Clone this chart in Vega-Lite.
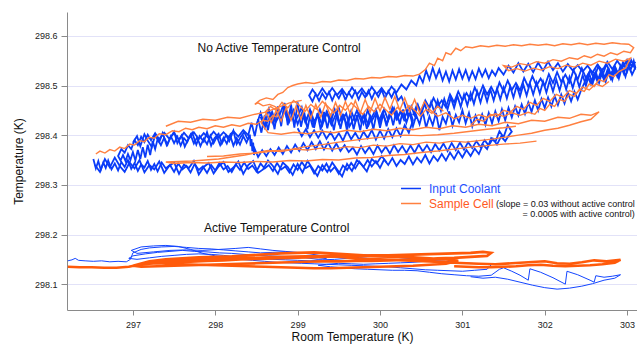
{
"$schema": "https://vega.github.io/schema/vega-lite/v6.json",
"width": 570, "height": 298,
"autosize": "none",
"padding": {"left": 67, "top": 12, "right": 0, "bottom": 36},
"config": {"font": "Liberation Sans", "view": {"stroke": null}},
"datasets": {
"ub": [
{"x":296.52,"y":298.352},{"x":296.55,"y":298.333},{"x":296.58,"y":298.348},{"x":296.61,"y":298.330},{"x":296.64,"y":298.345},{"x":296.67,"y":298.334},{"x":296.70,"y":298.349},{"x":296.74,"y":298.331},{"x":296.78,"y":298.343},{"x":296.82,"y":298.329},{"x":296.86,"y":298.346},{"x":296.90,"y":298.336},{"x":296.94,"y":298.350},{"x":296.98,"y":298.332},{"x":297.02,"y":298.344},{"x":297.06,"y":298.328},{"x":297.10,"y":298.341},{"x":297.14,"y":298.335},{"x":297.18,"y":298.348},{"x":297.22,"y":298.330},{"x":297.26,"y":298.342},{"x":297.30,"y":298.327},{"x":297.35,"y":298.345},{"x":297.40,"y":298.333},{"x":297.45,"y":298.340},{"x":297.50,"y":298.326},{"x":297.55,"y":298.343},{"x":297.60,"y":298.331},{"x":297.65,"y":298.338},{"x":297.70,"y":298.325},{"x":297.75,"y":298.342},{"x":297.80,"y":298.330},{"x":297.85,"y":298.337},{"x":297.90,"y":298.324},{"x":297.95,"y":298.340},{"x":298.00,"y":298.329},{"x":298.05,"y":298.344},{"x":298.10,"y":298.331},{"x":298.15,"y":298.338},{"x":298.20,"y":298.326},{"x":298.25,"y":298.341},{"x":298.30,"y":298.330},{"x":298.35,"y":298.345},{"x":298.40,"y":298.332},{"x":298.45,"y":298.339},{"x":298.50,"y":298.327},{"x":298.55,"y":298.343},{"x":298.60,"y":298.333},{"x":298.65,"y":298.340},{"x":298.70,"y":298.328},{"x":298.75,"y":298.344},{"x":298.80,"y":298.331},{"x":298.85,"y":298.337},{"x":298.90,"y":298.325},{"x":298.95,"y":298.341},{"x":299.00,"y":298.330},{"x":299.05,"y":298.346},{"x":299.10,"y":298.334},{"x":299.15,"y":298.339},{"x":299.20,"y":298.323},{"x":299.25,"y":298.338},{"x":299.30,"y":298.329},{"x":299.35,"y":298.343},{"x":299.40,"y":298.327},{"x":299.45,"y":298.336},{"x":299.50,"y":298.322},{"x":299.55,"y":298.339},{"x":299.60,"y":298.330},{"x":299.65,"y":298.344},{"x":299.70,"y":298.333},{"x":299.75,"y":298.347},{"x":299.80,"y":298.336},
{"x":299.85,"y":298.350},{"x":299.90,"y":298.337},{"x":299.95,"y":298.348},{"x":300.00,"y":298.334},{"x":300.05,"y":298.351},{"x":300.10,"y":298.340},{"x":300.15,"y":298.354},{"x":300.20,"y":298.338},{"x":300.25,"y":298.350},{"x":300.30,"y":298.342},{"x":300.35,"y":298.357},{"x":300.40,"y":298.341},{"x":300.45,"y":298.355},{"x":300.50,"y":298.345},{"x":300.55,"y":298.360},{"x":300.60,"y":298.343},{"x":300.65,"y":298.358},{"x":300.70,"y":298.348},{"x":300.75,"y":298.362},{"x":300.80,"y":298.349},{"x":300.85,"y":298.365},{"x":300.90,"y":298.352},{"x":300.95,"y":298.368},{"x":301.00,"y":298.355},{"x":301.05,"y":298.370},{"x":301.10,"y":298.358},{"x":301.15,"y":298.373},{"x":301.20,"y":298.362},
{"x":301.25,"y":298.381},{"x":301.30,"y":298.372},{"x":301.35,"y":298.394},{"x":301.40,"y":298.386},{"x":301.45,"y":298.408},{"x":301.50,"y":298.396},{"x":301.55,"y":298.420},{"x":301.60,"y":298.407},{"x":301.56,"y":298.399},{"x":301.52,"y":298.388},{"x":301.47,"y":298.397},{"x":301.42,"y":298.381},{"x":301.37,"y":298.393},{"x":301.32,"y":298.379},{"x":301.27,"y":298.390},{"x":301.22,"y":298.376},{"x":301.17,"y":298.388},{"x":301.12,"y":298.374},{"x":301.07,"y":298.386},{"x":301.02,"y":298.371},{"x":300.97,"y":298.385},{"x":300.92,"y":298.370},{"x":300.87,"y":298.384},{"x":300.82,"y":298.368},{"x":300.77,"y":298.383},{"x":300.72,"y":298.369},{"x":300.67,"y":298.382},{"x":300.62,"y":298.366},{"x":300.57,"y":298.380},{"x":300.52,"y":298.367},{"x":300.47,"y":298.381},{"x":300.42,"y":298.365},{"x":300.37,"y":298.379},{"x":300.32,"y":298.364},{"x":300.27,"y":298.378},{"x":300.22,"y":298.366},{"x":300.17,"y":298.380},{"x":300.12,"y":298.363},{"x":300.07,"y":298.377},{"x":300.02,"y":298.365},{"x":299.97,"y":298.379},{"x":299.92,"y":298.362},{"x":299.87,"y":298.376},{"x":299.82,"y":298.364},{"x":299.77,"y":298.378},{"x":299.72,"y":298.361},{"x":299.67,"y":298.375},{"x":299.62,"y":298.366},{"x":299.57,"y":298.380},{"x":299.52,"y":298.368},{"x":299.47,"y":298.383},{"x":299.42,"y":298.369},{"x":299.37,"y":298.385},{"x":299.32,"y":298.371},{"x":299.27,"y":298.388},{"x":299.22,"y":298.372},{"x":299.17,"y":298.386},{"x":299.12,"y":298.370},{"x":299.07,"y":298.384},{"x":299.02,"y":298.368},{"x":298.97,"y":298.381},{"x":298.92,"y":298.365},{"x":298.87,"y":298.378},{"x":298.82,"y":298.362},{"x":298.77,"y":298.375},{"x":298.72,"y":298.360},{"x":298.67,"y":298.372},{"x":298.62,"y":298.358},{"x":298.57,"y":298.370},{"x":298.52,"y":298.356},
{"x":298.48,"y":298.372},{"x":298.47,"y":298.360},{"x":298.46,"y":298.385},{"x":298.45,"y":298.368},{"x":298.44,"y":298.392},{"x":298.43,"y":298.378},{"x":298.42,"y":298.401},
{"x":298.38,"y":298.385},{"x":298.34,"y":298.398},{"x":298.30,"y":298.381},{"x":298.26,"y":298.394},{"x":298.22,"y":298.379},{"x":298.18,"y":298.400},{"x":298.14,"y":298.383},{"x":298.10,"y":298.395},{"x":298.06,"y":298.380},{"x":298.02,"y":298.397},{"x":297.98,"y":298.384},{"x":297.94,"y":298.399},{"x":297.90,"y":298.382},{"x":297.86,"y":298.393},{"x":297.82,"y":298.378},{"x":297.78,"y":298.396},{"x":297.74,"y":298.383},{"x":297.70,"y":298.401},{"x":297.66,"y":298.386},{"x":297.62,"y":298.394},{"x":297.58,"y":298.379},{"x":297.54,"y":298.397},{"x":297.50,"y":298.384},{"x":297.46,"y":298.398},{"x":297.42,"y":298.381},{"x":297.38,"y":298.395},{"x":297.34,"y":298.380},{"x":297.30,"y":298.392},
{"x":297.27,"y":298.372},{"x":297.24,"y":298.388},{"x":297.21,"y":298.360},{"x":297.18,"y":298.381},{"x":297.15,"y":298.355},{"x":297.12,"y":298.376},{"x":297.09,"y":298.352},{"x":297.06,"y":298.370},{"x":297.03,"y":298.349},{"x":297.00,"y":298.366},{"x":296.97,"y":298.350},{"x":296.94,"y":298.362},{"x":296.91,"y":298.348},{"x":296.88,"y":298.360},{"x":296.85,"y":298.349},{"x":296.82,"y":298.358},
{"x":296.86,"y":298.372},{"x":296.90,"y":298.365},{"x":296.94,"y":298.380},{"x":296.98,"y":298.372},{"x":297.02,"y":298.390},{"x":297.06,"y":298.380},{"x":297.10,"y":298.397},{"x":297.14,"y":298.386},{"x":297.18,"y":298.401},{"x":297.22,"y":298.390},{"x":297.27,"y":298.404},{"x":297.32,"y":298.392},{"x":297.38,"y":298.405},{"x":297.44,"y":298.393},{"x":297.50,"y":298.404},{"x":297.56,"y":298.391},{"x":297.62,"y":298.405},{"x":297.68,"y":298.393},{"x":297.74,"y":298.406},{"x":297.80,"y":298.392},{"x":297.86,"y":298.404},{"x":297.92,"y":298.394},{"x":297.98,"y":298.407},{"x":298.04,"y":298.395},{"x":298.10,"y":298.406},{"x":298.16,"y":298.396},{"x":298.22,"y":298.408},{"x":298.28,"y":298.397},{"x":298.34,"y":298.410},{"x":298.40,"y":298.400},
{"x":298.44,"y":298.425},{"x":298.48,"y":298.398},{"x":298.52,"y":298.432},{"x":298.56,"y":298.405},{"x":298.60,"y":298.440},{"x":298.64,"y":298.410},{"x":298.68,"y":298.445},{"x":298.72,"y":298.412},{"x":298.76,"y":298.458},{"x":298.80,"y":298.418},{"x":298.84,"y":298.465},{"x":298.88,"y":298.420},{"x":298.92,"y":298.462},{"x":298.96,"y":298.415},{"x":299.00,"y":298.466},{"x":299.04,"y":298.417},{"x":299.08,"y":298.446},{"x":299.12,"y":298.412},{"x":299.16,"y":298.449},{"x":299.20,"y":298.415},{"x":299.24,"y":298.444},{"x":299.28,"y":298.411},{"x":299.32,"y":298.447},{"x":299.36,"y":298.414},{"x":299.40,"y":298.443},{"x":299.44,"y":298.410},{"x":299.48,"y":298.446},{"x":299.52,"y":298.413},{"x":299.56,"y":298.442},{"x":299.60,"y":298.409},{"x":299.64,"y":298.445},{"x":299.68,"y":298.412},{"x":299.72,"y":298.440},{"x":299.76,"y":298.410},{"x":299.80,"y":298.444},{"x":299.84,"y":298.413},{"x":299.88,"y":298.441},{"x":299.92,"y":298.412},{"x":299.96,"y":298.446},{"x":300.00,"y":298.415},{"x":300.04,"y":298.443},{"x":300.08,"y":298.418},{"x":300.12,"y":298.448},{"x":300.16,"y":298.420},{"x":300.20,"y":298.450},{"x":300.24,"y":298.422},{"x":300.28,"y":298.452},{"x":300.32,"y":298.425},
{"x":300.36,"y":298.445},{"x":300.40,"y":298.418},{"x":300.44,"y":298.440},{"x":300.48,"y":298.422},{"x":300.52,"y":298.447},{"x":300.56,"y":298.415},{"x":300.60,"y":298.438},{"x":300.64,"y":298.420},{"x":300.68,"y":298.445},{"x":300.72,"y":298.410},{"x":300.76,"y":298.437},{"x":300.80,"y":298.423},{"x":300.84,"y":298.448},{"x":300.88,"y":298.419},{"x":300.92,"y":298.441},{"x":300.96,"y":298.426},{"x":301.00,"y":298.450},{"x":301.04,"y":298.424},{"x":301.08,"y":298.445},{"x":301.12,"y":298.418},{"x":301.16,"y":298.440},
{"x":301.20,"y":298.425},{"x":301.24,"y":298.442},{"x":301.28,"y":298.421},{"x":301.32,"y":298.445},{"x":301.36,"y":298.424},{"x":301.40,"y":298.448},{"x":301.44,"y":298.428},{"x":301.48,"y":298.452},{"x":301.52,"y":298.430},{"x":301.56,"y":298.455},{"x":301.60,"y":298.436},{"x":301.64,"y":298.458},{"x":301.68,"y":298.440},{"x":301.72,"y":298.462},{"x":301.76,"y":298.443},{"x":301.80,"y":298.466},{"x":301.84,"y":298.447},{"x":301.88,"y":298.470},{"x":301.92,"y":298.450},{"x":301.96,"y":298.473},{"x":302.00,"y":298.455},{"x":302.04,"y":298.476},{"x":302.08,"y":298.458},{"x":302.12,"y":298.479},{"x":302.16,"y":298.461},{"x":302.20,"y":298.482},{"x":302.24,"y":298.464},{"x":302.28,"y":298.486},{"x":302.32,"y":298.468},{"x":302.36,"y":298.488},{"x":302.40,"y":298.472},{"x":302.44,"y":298.490},
{"x":302.48,"y":298.505},{"x":302.52,"y":298.520},{"x":302.56,"y":298.503},{"x":302.60,"y":298.524},{"x":302.64,"y":298.508},{"x":302.68,"y":298.528},{"x":302.72,"y":298.511},{"x":302.76,"y":298.531},{"x":302.80,"y":298.514},{"x":302.84,"y":298.535},{"x":302.88,"y":298.518},{"x":302.92,"y":298.540},{"x":302.96,"y":298.524},{"x":303.00,"y":298.546},{"x":303.04,"y":298.530},{"x":303.08,"y":298.550},{"x":303.10,"y":298.536},
{"x":303.06,"y":298.522},{"x":303.02,"y":298.542},{"x":302.98,"y":298.518},{"x":302.94,"y":298.538},{"x":302.90,"y":298.514},{"x":302.86,"y":298.535},{"x":302.82,"y":298.511},{"x":302.78,"y":298.532},{"x":302.74,"y":298.508},{"x":302.70,"y":298.530},{"x":302.66,"y":298.505},{"x":302.62,"y":298.527},{"x":302.58,"y":298.503},{"x":302.54,"y":298.524},{"x":302.50,"y":298.500},{"x":302.46,"y":298.521},{"x":302.42,"y":298.497},{"x":302.38,"y":298.519},{"x":302.34,"y":298.495},{"x":302.30,"y":298.517},{"x":302.26,"y":298.492},{"x":302.22,"y":298.514},{"x":302.18,"y":298.490},{"x":302.14,"y":298.512},{"x":302.10,"y":298.488},{"x":302.06,"y":298.510},{"x":302.02,"y":298.486},{"x":301.98,"y":298.508},{"x":301.94,"y":298.484},{"x":301.90,"y":298.506},{"x":301.86,"y":298.482},{"x":301.82,"y":298.504},{"x":301.78,"y":298.480},{"x":301.74,"y":298.502},{"x":301.70,"y":298.478},{"x":301.66,"y":298.500},{"x":301.62,"y":298.476},{"x":301.58,"y":298.498},{"x":301.54,"y":298.474},{"x":301.50,"y":298.496},{"x":301.46,"y":298.472},{"x":301.42,"y":298.494},{"x":301.38,"y":298.470},{"x":301.34,"y":298.492},{"x":301.30,"y":298.468},{"x":301.26,"y":298.490},{"x":301.22,"y":298.466},{"x":301.18,"y":298.488},{"x":301.14,"y":298.463},{"x":301.10,"y":298.485},{"x":301.06,"y":298.460},{"x":301.02,"y":298.482},{"x":300.98,"y":298.457},{"x":300.94,"y":298.479},{"x":300.90,"y":298.455},{"x":300.86,"y":298.476},{"x":300.82,"y":298.452},{"x":300.78,"y":298.473},{"x":300.74,"y":298.449},{"x":300.70,"y":298.470},{"x":300.66,"y":298.446},{"x":300.62,"y":298.467},{"x":300.58,"y":298.444},{"x":300.54,"y":298.464},{"x":300.50,"y":298.441},{"x":300.46,"y":298.461},{"x":300.42,"y":298.440},{"x":300.38,"y":298.458},{"x":300.34,"y":298.438},
{"x":300.30,"y":298.462},{"x":300.26,"y":298.478},{"x":300.22,"y":298.470},{"x":300.18,"y":298.490},{"x":300.14,"y":298.476},{"x":300.10,"y":298.489},{"x":300.06,"y":298.474},{"x":300.02,"y":298.491},{"x":299.98,"y":298.477},{"x":299.94,"y":298.488},{"x":299.90,"y":298.473},{"x":299.86,"y":298.490},{"x":299.82,"y":298.476},{"x":299.78,"y":298.487},{"x":299.74,"y":298.472},{"x":299.70,"y":298.489},{"x":299.66,"y":298.475},{"x":299.62,"y":298.486},{"x":299.58,"y":298.471},{"x":299.54,"y":298.488},{"x":299.50,"y":298.474},{"x":299.46,"y":298.485},{"x":299.42,"y":298.470},{"x":299.38,"y":298.487},{"x":299.34,"y":298.473},{"x":299.30,"y":298.484},{"x":299.26,"y":298.469},{"x":299.22,"y":298.483},{"x":299.18,"y":298.468},{"x":299.14,"y":298.480},
{"x":299.18,"y":298.492},{"x":299.24,"y":298.478},{"x":299.30,"y":298.494},{"x":299.36,"y":298.480},{"x":299.42,"y":298.495},{"x":299.48,"y":298.481},{"x":299.54,"y":298.493},{"x":299.60,"y":298.479},{"x":299.66,"y":298.496},{"x":299.72,"y":298.482},{"x":299.78,"y":298.494},{"x":299.84,"y":298.480},{"x":299.90,"y":298.497},{"x":299.96,"y":298.483},{"x":300.02,"y":298.495},{"x":300.08,"y":298.481},{"x":300.14,"y":298.498},{"x":300.20,"y":298.486},{"x":300.26,"y":298.502},{"x":300.32,"y":298.492},{"x":300.38,"y":298.510},{"x":300.44,"y":298.500},
{"x":300.48,"y":298.520},{"x":300.52,"y":298.506},{"x":300.56,"y":298.530},{"x":300.60,"y":298.512},{"x":300.64,"y":298.535},{"x":300.68,"y":298.515},{"x":300.72,"y":298.532},{"x":300.76,"y":298.510},{"x":300.80,"y":298.528},{"x":300.84,"y":298.508},{"x":300.88,"y":298.530},{"x":300.92,"y":298.512},{"x":300.96,"y":298.533},{"x":301.00,"y":298.514},{"x":301.04,"y":298.531},{"x":301.08,"y":298.511},{"x":301.12,"y":298.529},{"x":301.16,"y":298.513},{"x":301.20,"y":298.534},{"x":301.24,"y":298.518},{"x":301.28,"y":298.532},{"x":301.32,"y":298.515},{"x":301.36,"y":298.530},{"x":301.40,"y":298.520},{"x":301.44,"y":298.535},{"x":301.50,"y":298.522},{"x":301.56,"y":298.540},{"x":301.62,"y":298.526},{"x":301.68,"y":298.545},{"x":301.74,"y":298.528},{"x":301.80,"y":298.544},{"x":301.86,"y":298.527},{"x":301.92,"y":298.546},{"x":301.98,"y":298.530},{"x":302.04,"y":298.548},{"x":302.10,"y":298.531},{"x":302.16,"y":298.545},{"x":302.22,"y":298.528},{"x":302.28,"y":298.543},{"x":302.34,"y":298.530},{"x":302.40,"y":298.541},
{"x":302.46,"y":298.528},{"x":302.52,"y":298.540},{"x":302.58,"y":298.526},{"x":302.64,"y":298.542},{"x":302.70,"y":298.530},{"x":302.76,"y":298.548},{"x":302.82,"y":298.533},{"x":302.88,"y":298.550},{"x":302.94,"y":298.535},{"x":303.00,"y":298.552},{"x":303.06,"y":298.538},{"x":303.10,"y":298.548}
],
"ub2": [
{"p":0,"x":298.50,"y":298.420},{"p":0,"x":298.55,"y":298.445},{"p":0,"x":298.60,"y":298.418},{"p":0,"x":298.65,"y":298.452},{"p":0,"x":298.70,"y":298.425},{"p":0,"x":298.75,"y":298.448},{"p":0,"x":298.80,"y":298.430},{"p":0,"x":298.85,"y":298.458},{"p":0,"x":298.90,"y":298.428},{"p":0,"x":298.95,"y":298.450},{"p":0,"x":299.00,"y":298.422},{"p":0,"x":299.05,"y":298.444},{"p":0,"x":299.10,"y":298.425},{"p":0,"x":299.15,"y":298.452},{"p":0,"x":299.20,"y":298.428},{"p":0,"x":299.25,"y":298.440},{"p":0,"x":299.30,"y":298.420},{"p":0,"x":299.35,"y":298.447},{"p":0,"x":299.40,"y":298.426},{"p":0,"x":299.45,"y":298.452},{"p":0,"x":299.50,"y":298.424},{"p":0,"x":299.55,"y":298.441},{"p":0,"x":299.60,"y":298.421},{"p":0,"x":299.65,"y":298.449},{"p":0,"x":299.70,"y":298.427},{"p":0,"x":299.75,"y":298.446},{"p":0,"x":299.80,"y":298.423},{"p":0,"x":299.85,"y":298.450},{"p":0,"x":299.90,"y":298.429},{"p":0,"x":299.95,"y":298.444},{"p":0,"x":300.00,"y":298.426},{"p":0,"x":300.05,"y":298.452},{"p":0,"x":300.10,"y":298.430},{"p":0,"x":300.15,"y":298.455},{"p":0,"x":300.20,"y":298.432},{"p":0,"x":300.25,"y":298.448},{"p":0,"x":300.30,"y":298.436},{"p":0,"x":300.35,"y":298.455},{"p":0,"x":300.40,"y":298.430},
{"p":0,"x":300.35,"y":298.405},{"p":0,"x":300.30,"y":298.420},{"p":0,"x":300.25,"y":298.398},{"p":0,"x":300.20,"y":298.414},{"p":0,"x":300.15,"y":298.396},{"p":0,"x":300.10,"y":298.412},{"p":0,"x":300.05,"y":298.393},{"p":0,"x":300.00,"y":298.409},{"p":0,"x":299.95,"y":298.391},{"p":0,"x":299.90,"y":298.410},{"p":0,"x":299.85,"y":298.394},{"p":0,"x":299.80,"y":298.407},{"p":0,"x":299.75,"y":298.390},{"p":0,"x":299.70,"y":298.405},{"p":0,"x":299.65,"y":298.392},{"p":0,"x":299.60,"y":298.408},{"p":0,"x":299.55,"y":298.389},{"p":0,"x":299.50,"y":298.404},{"p":0,"x":299.45,"y":298.391},{"p":0,"x":299.40,"y":298.406},{"p":0,"x":299.35,"y":298.393},{"p":0,"x":299.30,"y":298.409},{"p":0,"x":299.25,"y":298.395},{"p":0,"x":299.20,"y":298.410},{"p":0,"x":299.15,"y":298.396},{"p":0,"x":299.10,"y":298.412},{"p":0,"x":299.05,"y":298.398},{"p":0,"x":299.00,"y":298.414},
{"p":1,"x":296.54,"y":298.340},{"p":1,"x":296.60,"y":298.326},{"p":1,"x":296.66,"y":298.352},{"p":1,"x":296.72,"y":298.335},{"p":1,"x":296.78,"y":298.355},{"p":1,"x":296.84,"y":298.338},{"p":1,"x":296.90,"y":298.326},{"p":1,"x":296.96,"y":298.345},{"p":1,"x":297.02,"y":298.333},{"p":1,"x":297.08,"y":298.350},{"p":1,"x":297.14,"y":298.325},{"p":1,"x":297.20,"y":298.340},{"p":1,"x":297.26,"y":298.331},{"p":1,"x":297.32,"y":298.347},{"p":1,"x":297.38,"y":298.324},{"p":1,"x":297.44,"y":298.338},{"p":1,"x":297.50,"y":298.345},{"p":1,"x":297.56,"y":298.322},{"p":1,"x":297.62,"y":298.341},{"p":1,"x":297.68,"y":298.334},{"p":1,"x":297.74,"y":298.348},{"p":1,"x":297.80,"y":298.321},{"p":1,"x":297.86,"y":298.336},{"p":1,"x":297.92,"y":298.344},{"p":1,"x":297.98,"y":298.323},{"p":1,"x":298.04,"y":298.337},{"p":1,"x":298.10,"y":298.346},{"p":1,"x":298.16,"y":298.326},{"p":1,"x":298.22,"y":298.335},{"p":1,"x":298.28,"y":298.347},{"p":1,"x":298.34,"y":298.322},{"p":1,"x":298.40,"y":298.340},{"p":1,"x":298.46,"y":298.348},{"p":1,"x":298.52,"y":298.324},{"p":1,"x":298.58,"y":298.331},{"p":1,"x":298.64,"y":298.349},{"p":1,"x":298.70,"y":298.338},{"p":1,"x":298.76,"y":298.322},{"p":1,"x":298.82,"y":298.345},{"p":1,"x":298.88,"y":298.336},{"p":1,"x":298.94,"y":298.320},{"p":1,"x":299.00,"y":298.342},{"p":1,"x":299.06,"y":298.325},{"p":1,"x":299.12,"y":298.348},{"p":1,"x":299.18,"y":298.333},{"p":1,"x":299.24,"y":298.318},{"p":1,"x":299.30,"y":298.340},{"p":1,"x":299.36,"y":298.326},{"p":1,"x":299.42,"y":298.345},{"p":1,"x":299.48,"y":298.331},{"p":1,"x":299.54,"y":298.317},{"p":1,"x":299.60,"y":298.342},{"p":1,"x":299.66,"y":298.328},{"p":1,"x":299.72,"y":298.350},{"p":1,"x":299.78,"y":298.340},{"p":1,"x":299.84,"y":298.327},{"p":1,"x":299.90,"y":298.352},{"p":1,"x":299.96,"y":298.343},{"p":1,"x":300.02,"y":298.358},{"p":1,"x":300.08,"y":298.345},
{"p":2,"x":300.40,"y":298.440},{"p":2,"x":300.45,"y":298.462},{"p":2,"x":300.50,"y":298.447},{"p":2,"x":300.55,"y":298.470},{"p":2,"x":300.60,"y":298.455},{"p":2,"x":300.65,"y":298.475},{"p":2,"x":300.70,"y":298.458},{"p":2,"x":300.75,"y":298.470},{"p":2,"x":300.80,"y":298.456},{"p":2,"x":300.85,"y":298.482},{"p":2,"x":300.90,"y":298.466},{"p":2,"x":300.95,"y":298.488},{"p":2,"x":301.00,"y":298.470},{"p":2,"x":301.05,"y":298.485},{"p":2,"x":301.10,"y":298.471},{"p":2,"x":301.15,"y":298.496},{"p":2,"x":301.20,"y":298.479},{"p":2,"x":301.25,"y":298.500},{"p":2,"x":301.30,"y":298.482},{"p":2,"x":301.35,"y":298.497},{"p":2,"x":301.40,"y":298.481},{"p":2,"x":301.45,"y":298.506},{"p":2,"x":301.50,"y":298.488},{"p":2,"x":301.55,"y":298.510},{"p":2,"x":301.60,"y":298.491},{"p":2,"x":301.65,"y":298.505},{"p":2,"x":301.70,"y":298.490},{"p":2,"x":301.75,"y":298.515},{"p":2,"x":301.80,"y":298.497},{"p":2,"x":301.85,"y":298.519},{"p":2,"x":301.90,"y":298.500},{"p":2,"x":301.95,"y":298.514},{"p":2,"x":302.00,"y":298.499},{"p":2,"x":302.05,"y":298.523},{"p":2,"x":302.10,"y":298.505},{"p":2,"x":302.15,"y":298.527},{"p":2,"x":302.20,"y":298.507},{"p":2,"x":302.25,"y":298.522},{"p":2,"x":302.30,"y":298.506},{"p":2,"x":302.35,"y":298.531},{"p":2,"x":302.40,"y":298.512},{"p":2,"x":302.45,"y":298.535},{"p":2,"x":302.50,"y":298.515},{"p":2,"x":302.55,"y":298.530},{"p":2,"x":302.60,"y":298.514},{"p":2,"x":302.65,"y":298.539},{"p":2,"x":302.70,"y":298.520},{"p":2,"x":302.75,"y":298.543},{"p":2,"x":302.80,"y":298.523},{"p":2,"x":302.85,"y":298.538},{"p":2,"x":302.90,"y":298.522},{"p":2,"x":302.95,"y":298.547},{"p":2,"x":303.00,"y":298.528},{"p":2,"x":303.05,"y":298.551},{"p":2,"x":303.10,"y":298.532},
{"p":3,"x":300.30,"y":298.428},{"p":3,"x":300.25,"y":298.447},{"p":3,"x":300.21,"y":298.433},{"p":3,"x":300.17,"y":298.455},{"p":3,"x":300.12,"y":298.438},{"p":3,"x":300.08,"y":298.424},{"p":3,"x":300.03,"y":298.446},{"p":3,"x":299.99,"y":298.430},{"p":3,"x":299.95,"y":298.452},{"p":3,"x":299.90,"y":298.436},{"p":3,"x":299.86,"y":298.420},{"p":3,"x":299.81,"y":298.441},{"p":3,"x":299.77,"y":298.428},{"p":3,"x":299.72,"y":298.450},{"p":3,"x":299.68,"y":298.433},{"p":3,"x":299.63,"y":298.418},{"p":3,"x":299.59,"y":298.444},{"p":3,"x":299.54,"y":298.429},{"p":3,"x":299.50,"y":298.455},{"p":3,"x":299.45,"y":298.437},{"p":3,"x":299.41,"y":298.421},{"p":3,"x":299.36,"y":298.446},{"p":3,"x":299.32,"y":298.430},{"p":3,"x":299.27,"y":298.452},{"p":3,"x":299.23,"y":298.435},{"p":3,"x":299.18,"y":298.419},{"p":3,"x":299.14,"y":298.443},{"p":3,"x":299.09,"y":298.428},{"p":3,"x":299.05,"y":298.456},{"p":3,"x":299.00,"y":298.438},{"p":3,"x":298.96,"y":298.424},{"p":3,"x":298.91,"y":298.450},{"p":3,"x":298.87,"y":298.434},{"p":3,"x":298.82,"y":298.458},{"p":3,"x":298.78,"y":298.440},{"p":3,"x":298.73,"y":298.425},{"p":3,"x":298.69,"y":298.447},{"p":3,"x":298.64,"y":298.430},{"p":3,"x":298.60,"y":298.415},{"p":3,"x":298.55,"y":298.437},
{"p":4,"x":297.00,"y":298.385},{"p":4,"x":297.05,"y":298.398},{"p":4,"x":297.09,"y":298.378},{"p":4,"x":297.14,"y":298.402},{"p":4,"x":297.18,"y":298.389},{"p":4,"x":297.23,"y":298.376},{"p":4,"x":297.27,"y":298.400},{"p":4,"x":297.32,"y":298.386},{"p":4,"x":297.36,"y":298.404},{"p":4,"x":297.41,"y":298.380},{"p":4,"x":297.45,"y":298.393},{"p":4,"x":297.50,"y":298.407},{"p":4,"x":297.54,"y":298.384},{"p":4,"x":297.59,"y":298.399},{"p":4,"x":297.63,"y":298.377},{"p":4,"x":297.68,"y":298.395},{"p":4,"x":297.72,"y":298.405},{"p":4,"x":297.77,"y":298.381},{"p":4,"x":297.81,"y":298.398},{"p":4,"x":297.86,"y":298.387},{"p":4,"x":297.90,"y":298.406},{"p":4,"x":297.95,"y":298.379},{"p":4,"x":297.99,"y":298.394},{"p":4,"x":298.04,"y":298.403},{"p":4,"x":298.08,"y":298.383},{"p":4,"x":298.13,"y":298.400},{"p":4,"x":298.17,"y":298.388},{"p":4,"x":298.22,"y":298.409},{"p":4,"x":298.26,"y":298.382},{"p":4,"x":298.31,"y":298.397},{"p":4,"x":298.35,"y":298.406},{"p":4,"x":298.40,"y":298.390}
],
"uo": [
{"x":296.55,"y":298.362},{"x":296.60,"y":298.368},{"x":296.66,"y":298.364},{"x":296.72,"y":298.371},{"x":296.78,"y":298.368},{"x":296.84,"y":298.376},{"x":296.90,"y":298.373},{"x":296.96,"y":298.382},{"x":297.02,"y":298.380},{"x":297.08,"y":298.389},{"x":297.14,"y":298.387},{"x":297.20,"y":298.396},{"x":297.26,"y":298.394},{"x":297.32,"y":298.403},{"x":297.40,"y":298.401},{"x":297.48,"y":298.409},{"x":297.56,"y":298.407},{"x":297.64,"y":298.414},{"x":297.72,"y":298.411},{"x":297.80,"y":298.416},{"x":297.90,"y":298.413},{"x":298.00,"y":298.419},{"x":298.10,"y":298.416},{"x":298.20,"y":298.421},{"x":298.30,"y":298.418},{"x":298.40,"y":298.424},{"x":298.50,"y":298.422},{"x":298.58,"y":298.430},{"x":298.64,"y":298.428},{"x":298.70,"y":298.440},{"x":298.74,"y":298.437},{"x":298.78,"y":298.452},
{"x":298.72,"y":298.458},{"x":298.66,"y":298.462},{"x":298.58,"y":298.459},{"x":298.52,"y":298.465},{"x":298.48,"y":298.462},{"x":298.54,"y":298.470},{"x":298.62,"y":298.475},{"x":298.70,"y":298.472},{"x":298.76,"y":298.482},{"x":298.82,"y":298.486},{"x":298.88,"y":298.496},{"x":298.94,"y":298.500},{"x":299.00,"y":298.503},
{"x":299.10,"y":298.506},{"x":299.20,"y":298.504},{"x":299.30,"y":298.508},{"x":299.40,"y":298.507},{"x":299.50,"y":298.511},{"x":299.60,"y":298.510},{"x":299.70,"y":298.514},{"x":299.80,"y":298.513},{"x":299.90,"y":298.516},{"x":300.00,"y":298.515},{"x":300.10,"y":298.518},{"x":300.20,"y":298.517},{"x":300.30,"y":298.520},{"x":300.40,"y":298.519},{"x":300.48,"y":298.523},
{"x":300.55,"y":298.532},{"x":300.60,"y":298.545},{"x":300.66,"y":298.540},{"x":300.70,"y":298.555},{"x":300.76,"y":298.550},{"x":300.80,"y":298.566},{"x":300.86,"y":298.562},{"x":300.92,"y":298.575},{"x":300.98,"y":298.570},{"x":301.04,"y":298.578},
{"x":301.12,"y":298.576},{"x":301.22,"y":298.580},{"x":301.32,"y":298.578},{"x":301.42,"y":298.581},{"x":301.52,"y":298.579},{"x":301.62,"y":298.582},{"x":301.72,"y":298.580},{"x":301.82,"y":298.583},{"x":301.92,"y":298.581},{"x":302.02,"y":298.583},{"x":302.12,"y":298.580},{"x":302.22,"y":298.584},{"x":302.32,"y":298.582},{"x":302.42,"y":298.585},{"x":302.52,"y":298.582},{"x":302.62,"y":298.585},{"x":302.72,"y":298.583},{"x":302.82,"y":298.586},{"x":302.92,"y":298.584},{"x":303.02,"y":298.583},{"x":303.08,"y":298.576},
{"x":303.04,"y":298.566},{"x":302.96,"y":298.569},{"x":302.88,"y":298.562},{"x":302.80,"y":298.566},{"x":302.72,"y":298.559},{"x":302.64,"y":298.563},{"x":302.56,"y":298.556},{"x":302.48,"y":298.560},{"x":302.40,"y":298.553},{"x":302.30,"y":298.556},{"x":302.20,"y":298.549},{"x":302.10,"y":298.552},{"x":302.00,"y":298.545},{"x":301.90,"y":298.548},{"x":301.80,"y":298.541},{"x":301.70,"y":298.544},{"x":301.60,"y":298.537},{"x":301.50,"y":298.540},
{"x":301.56,"y":298.530},{"x":301.66,"y":298.534},{"x":301.76,"y":298.529},{"x":301.86,"y":298.535},{"x":301.96,"y":298.531},{"x":302.06,"y":298.538},{"x":302.16,"y":298.534},{"x":302.26,"y":298.541},{"x":302.36,"y":298.537},{"x":302.46,"y":298.545},{"x":302.56,"y":298.541},{"x":302.66,"y":298.549},{"x":302.76,"y":298.545},{"x":302.86,"y":298.553},{"x":302.96,"y":298.549},{"x":303.04,"y":298.555},
{"x":302.98,"y":298.535},{"x":302.90,"y":298.528},{"x":302.84,"y":298.518},{"x":302.78,"y":298.522},{"x":302.72,"y":298.508},{"x":302.66,"y":298.512},{"x":302.60,"y":298.498},{"x":302.54,"y":298.503},{"x":302.48,"y":298.488},{"x":302.42,"y":298.492},{"x":302.36,"y":298.478},{"x":302.30,"y":298.482},{"x":302.24,"y":298.468},{"x":302.18,"y":298.472},{"x":302.12,"y":298.458},{"x":302.06,"y":298.462},{"x":302.00,"y":298.450},{"x":301.94,"y":298.454},{"x":301.88,"y":298.442},
{"x":301.80,"y":298.446},{"x":301.70,"y":298.440},{"x":301.60,"y":298.445},{"x":301.50,"y":298.438},{"x":301.40,"y":298.443},{"x":301.30,"y":298.436},{"x":301.20,"y":298.441},{"x":301.10,"y":298.434},{"x":301.00,"y":298.440},{"x":300.90,"y":298.433},{"x":300.80,"y":298.445},{"x":300.70,"y":298.438},{"x":300.60,"y":298.452},
{"x":300.54,"y":298.468},{"x":300.48,"y":298.445},{"x":300.42,"y":298.472},{"x":300.36,"y":298.448},{"x":300.30,"y":298.475},{"x":300.24,"y":298.450},{"x":300.18,"y":298.478},{"x":300.12,"y":298.452},{"x":300.06,"y":298.476},{"x":300.00,"y":298.448},{"x":299.94,"y":298.474},{"x":299.88,"y":298.446},{"x":299.82,"y":298.472},{"x":299.76,"y":298.444},{"x":299.70,"y":298.470},{"x":299.64,"y":298.442},{"x":299.58,"y":298.468},{"x":299.52,"y":298.440},{"x":299.46,"y":298.466},{"x":299.40,"y":298.438},{"x":299.34,"y":298.464},{"x":299.28,"y":298.436},{"x":299.22,"y":298.462},{"x":299.16,"y":298.434},{"x":299.10,"y":298.460},{"x":299.04,"y":298.432},{"x":298.98,"y":298.458},{"x":298.92,"y":298.430},{"x":298.86,"y":298.455},{"x":298.80,"y":298.428},{"x":298.74,"y":298.450},{"x":298.68,"y":298.426},{"x":298.62,"y":298.445},{"x":298.56,"y":298.424},
{"x":298.64,"y":298.405},{"x":298.80,"y":298.402},{"x":298.96,"y":298.406},{"x":299.12,"y":298.403},{"x":299.28,"y":298.408},{"x":299.44,"y":298.405},{"x":299.60,"y":298.410},{"x":299.76,"y":298.407},{"x":299.92,"y":298.412},{"x":300.08,"y":298.409},{"x":300.24,"y":298.414},{"x":300.40,"y":298.411},{"x":300.56,"y":298.416},{"x":300.72,"y":298.413},{"x":300.88,"y":298.419},{"x":301.04,"y":298.416},{"x":301.20,"y":298.422},{"x":301.36,"y":298.419},{"x":301.52,"y":298.426},{"x":301.68,"y":298.423},{"x":301.84,"y":298.430},{"x":302.00,"y":298.428},{"x":302.16,"y":298.436},{"x":302.30,"y":298.434},{"x":302.44,"y":298.442},{"x":302.56,"y":298.440},{"x":302.66,"y":298.447},
{"x":302.56,"y":298.432},{"x":302.44,"y":298.427},{"x":302.30,"y":298.420},{"x":302.16,"y":298.414},{"x":302.00,"y":298.410},{"x":301.84,"y":298.404},{"x":301.68,"y":298.400},{"x":301.52,"y":298.396},{"x":301.36,"y":298.392},{"x":301.20,"y":298.389},{"x":301.04,"y":298.386},{"x":300.88,"y":298.388},{"x":300.72,"y":298.384},{"x":300.56,"y":298.386},{"x":300.40,"y":298.381},{"x":300.24,"y":298.383},{"x":300.08,"y":298.378},{"x":299.92,"y":298.380},{"x":299.76,"y":298.375},{"x":299.60,"y":298.377},{"x":299.44,"y":298.372},{"x":299.28,"y":298.374},{"x":299.12,"y":298.370},{"x":298.96,"y":298.372},{"x":298.80,"y":298.367},{"x":298.64,"y":298.369},{"x":298.48,"y":298.364},{"x":298.36,"y":298.360},{"x":298.20,"y":298.356},{"x":298.04,"y":298.352},{"x":297.88,"y":298.350},{"x":297.72,"y":298.348},{"x":297.56,"y":298.347},{"x":297.40,"y":298.346},
{"x":297.50,"y":298.343},{"x":297.70,"y":298.345},{"x":297.90,"y":298.344},{"x":298.10,"y":298.346},{"x":298.30,"y":298.345},{"x":298.50,"y":298.347},{"x":298.70,"y":298.346},{"x":298.90,"y":298.349},{"x":299.10,"y":298.348},{"x":299.30,"y":298.351},{"x":299.50,"y":298.350},{"x":299.70,"y":298.354},{"x":299.90,"y":298.355},{"x":300.10,"y":298.359},{"x":300.30,"y":298.361},{"x":300.50,"y":298.365},{"x":300.70,"y":298.368},{"x":300.90,"y":298.372},{"x":301.10,"y":298.376},{"x":301.30,"y":298.379},{"x":301.50,"y":298.382},{"x":301.70,"y":298.384},{"x":301.90,"y":298.388}
],
"uo2": [
{"p":1,"x":298.60,"y":298.445},{"p":1,"x":298.67,"y":298.458},{"p":1,"x":298.74,"y":298.450},{"p":1,"x":298.81,"y":298.466},{"p":1,"x":298.88,"y":298.455},{"p":1,"x":298.95,"y":298.470},{"p":1,"x":299.02,"y":298.460},{"p":1,"x":299.09,"y":298.448},{"p":1,"x":299.16,"y":298.462},{"p":1,"x":299.23,"y":298.452},{"p":1,"x":299.30,"y":298.468},{"p":1,"x":299.37,"y":298.457},{"p":1,"x":299.44,"y":298.445},{"p":1,"x":299.51,"y":298.460},{"p":1,"x":299.58,"y":298.450},{"p":1,"x":299.65,"y":298.465},{"p":1,"x":299.72,"y":298.454},{"p":1,"x":299.79,"y":298.442},{"p":1,"x":299.86,"y":298.458},{"p":1,"x":299.93,"y":298.447},{"p":1,"x":300.00,"y":298.462},{"p":1,"x":300.07,"y":298.451},{"p":1,"x":300.14,"y":298.440},{"p":1,"x":300.21,"y":298.456},{"p":1,"x":300.28,"y":298.446},{"p":1,"x":300.35,"y":298.460},{"p":1,"x":300.42,"y":298.450},{"p":1,"x":300.49,"y":298.438},{"p":1,"x":300.56,"y":298.452},{"p":1,"x":300.63,"y":298.444},{"p":1,"x":300.70,"y":298.458},{"p":1,"x":300.77,"y":298.448},
{"p":2,"x":297.40,"y":298.418},{"p":2,"x":297.55,"y":298.428},{"p":2,"x":297.70,"y":298.426},{"p":2,"x":297.85,"y":298.432},{"p":2,"x":298.00,"y":298.430},{"p":2,"x":298.15,"y":298.436},{"p":2,"x":298.30,"y":298.434},{"p":2,"x":298.45,"y":298.441},{"p":2,"x":298.60,"y":298.446},{"p":2,"x":298.75,"y":298.455},{"p":2,"x":298.90,"y":298.465},{"p":2,"x":299.05,"y":298.470},
{"p":3,"x":301.10,"y":298.420},{"p":3,"x":301.18,"y":298.432},{"p":3,"x":301.26,"y":298.428},{"p":3,"x":301.34,"y":298.442},{"p":3,"x":301.42,"y":298.437},{"p":3,"x":301.50,"y":298.450},{"p":3,"x":301.58,"y":298.446},{"p":3,"x":301.66,"y":298.458},{"p":3,"x":301.74,"y":298.452},{"p":3,"x":301.82,"y":298.466},{"p":3,"x":301.90,"y":298.460},{"p":3,"x":301.98,"y":298.474},{"p":3,"x":302.06,"y":298.468},{"p":3,"x":302.14,"y":298.482},{"p":3,"x":302.22,"y":298.476},{"p":3,"x":302.30,"y":298.490},{"p":3,"x":302.38,"y":298.484},{"p":3,"x":302.46,"y":298.497},{"p":3,"x":302.54,"y":298.491},{"p":3,"x":302.62,"y":298.503},{"p":3,"x":302.70,"y":298.498},{"p":3,"x":302.78,"y":298.508},
{"p":4,"x":297.90,"y":298.357},{"p":4,"x":298.10,"y":298.358},{"p":4,"x":298.30,"y":298.362},{"p":4,"x":298.50,"y":298.364},{"p":4,"x":298.70,"y":298.368},{"p":4,"x":298.90,"y":298.371},{"p":4,"x":299.10,"y":298.377},{"p":4,"x":299.30,"y":298.381},{"p":4,"x":299.50,"y":298.386},{"p":4,"x":299.70,"y":298.390},{"p":4,"x":299.90,"y":298.394},{"p":4,"x":300.10,"y":298.397},{"p":4,"x":300.30,"y":298.400},{"p":4,"x":300.50,"y":298.399},{"p":4,"x":300.70,"y":298.401},{"p":4,"x":300.90,"y":298.404},{"p":4,"x":301.10,"y":298.408},{"p":4,"x":301.30,"y":298.412},{"p":4,"x":301.50,"y":298.415},{"p":4,"x":301.65,"y":298.418}
],
"lb": [
{"x":296.21,"y":298.147},{"x":296.26,"y":298.149},{"x":296.30,"y":298.152},{"x":296.34,"y":298.148},{"x":296.42,"y":298.147},{"x":296.52,"y":298.146},{"x":296.62,"y":298.147},{"x":296.72,"y":298.145},{"x":296.82,"y":298.146},{"x":296.92,"y":298.145},{"x":296.97,"y":298.150},{"x":297.00,"y":298.163},{"x":297.10,"y":298.170},{"x":297.20,"y":298.173},{"x":297.35,"y":298.175},{"x":297.50,"y":298.176},{"x":297.65,"y":298.174},{"x":297.80,"y":298.172},{"x":297.95,"y":298.171},{"x":298.10,"y":298.169},{"x":298.25,"y":298.167},{"x":298.40,"y":298.165},{"x":298.55,"y":298.163},{"x":298.70,"y":298.164},{"x":298.85,"y":298.165},{"x":299.00,"y":298.163},{"x":299.15,"y":298.161},{"x":299.30,"y":298.157},{"x":299.35,"y":298.152},{"x":299.25,"y":298.150},{"x":299.10,"y":298.153},{"x":298.95,"y":298.155},{"x":298.80,"y":298.156},{"x":298.65,"y":298.157},{"x":298.50,"y":298.158},{"x":298.35,"y":298.160},{"x":298.20,"y":298.162},{"x":298.05,"y":298.163},{"x":297.90,"y":298.165},{"x":297.75,"y":298.166},{"x":297.60,"y":298.168},{"x":297.45,"y":298.166},{"x":297.30,"y":298.164},{"x":297.15,"y":298.161},{"x":297.00,"y":298.157},{"x":296.95,"y":298.152},{"x":297.05,"y":298.150},{"x":297.20,"y":298.153},{"x":297.35,"y":298.156},{"x":297.50,"y":298.158},{"x":297.65,"y":298.160},{"x":297.80,"y":298.161},{"x":297.95,"y":298.160},{"x":298.10,"y":298.158},{"x":298.25,"y":298.155},{"x":298.40,"y":298.152},{"x":298.55,"y":298.151},{"x":298.70,"y":298.150},{"x":298.85,"y":298.149},{"x":299.00,"y":298.148},{"x":299.15,"y":298.147},{"x":299.30,"y":298.149},{"x":299.45,"y":298.150},{"x":299.60,"y":298.152},{"x":299.75,"y":298.154},{"x":299.90,"y":298.156},{"x":300.05,"y":298.155},{"x":300.20,"y":298.157},{"x":300.35,"y":298.155},{"x":300.50,"y":298.153},{"x":300.60,"y":298.150},{"x":300.55,"y":298.146},{"x":300.40,"y":298.144},{"x":300.25,"y":298.143},{"x":300.10,"y":298.142},{"x":299.95,"y":298.141},{"x":299.80,"y":298.140},{"x":299.65,"y":298.141},{"x":299.50,"y":298.142},{"x":299.35,"y":298.140},{"x":299.20,"y":298.141},{"x":299.05,"y":298.142},{"x":298.90,"y":298.143},{"x":298.75,"y":298.144},{"x":298.60,"y":298.146},{"x":298.45,"y":298.148},{"x":298.30,"y":298.150},{"x":298.15,"y":298.153},{"x":298.00,"y":298.157},{"x":297.85,"y":298.162},{"x":297.70,"y":298.170},{"x":297.55,"y":298.176},{"x":297.40,"y":298.178},{"x":297.25,"y":298.177},{"x":297.10,"y":298.175},{"x":296.98,"y":298.168},{"x":297.05,"y":298.162},{"x":297.25,"y":298.165},{"x":297.45,"y":298.168},{"x":297.65,"y":298.169},{"x":297.85,"y":298.168},{"x":298.05,"y":298.170},{"x":298.25,"y":298.172},{"x":298.40,"y":298.174},{"x":298.55,"y":298.171},{"x":298.70,"y":298.168},{"x":298.85,"y":298.166},{"x":299.00,"y":298.164},{"x":299.20,"y":298.163},{"x":299.40,"y":298.162},{"x":299.60,"y":298.160},{"x":299.80,"y":298.159},{"x":300.00,"y":298.158},{"x":300.20,"y":298.154},{"x":300.40,"y":298.151},{"x":300.60,"y":298.148},{"x":300.80,"y":298.146},{"x":301.00,"y":298.143},{"x":301.20,"y":298.141},{"x":301.35,"y":298.139},{"x":301.30,"y":298.130},{"x":301.15,"y":298.128},{"x":301.00,"y":298.126},{"x":300.85,"y":298.127},{"x":300.70,"y":298.128},{"x":300.55,"y":298.129},{"x":300.40,"y":298.131},{"x":300.25,"y":298.133},{"x":300.10,"y":298.135},{"x":299.95,"y":298.136},{"x":299.80,"y":298.137},{"x":299.65,"y":298.138},{"x":299.50,"y":298.139},{"x":299.35,"y":298.140},{"x":299.25,"y":298.138},{"x":299.40,"y":298.135},{"x":299.55,"y":298.133},{"x":299.70,"y":298.131},{"x":299.85,"y":298.130},{"x":300.00,"y":298.129},{"x":300.15,"y":298.128},{"x":300.30,"y":298.128},{"x":300.45,"y":298.127},{"x":300.60,"y":298.124},{"x":300.75,"y":298.121},{"x":300.90,"y":298.119},{"x":301.05,"y":298.117},{"x":301.20,"y":298.116},{"x":301.35,"y":298.118},{"x":301.45,"y":298.130},{"x":301.50,"y":298.133},{"x":301.60,"y":298.126},{"x":301.70,"y":298.118},{"x":301.80,"y":298.108},{"x":301.82,"y":298.131},{"x":301.95,"y":298.124},{"x":302.10,"y":298.113},{"x":302.25,"y":298.100},{"x":302.27,"y":298.126},{"x":302.40,"y":298.119},{"x":302.55,"y":298.108},{"x":302.60,"y":298.104},{"x":302.62,"y":298.117},{"x":302.72,"y":298.114},{"x":302.82,"y":298.116},{"x":302.92,"y":298.119},{"x":302.85,"y":298.112},{"x":302.72,"y":298.108},{"x":302.58,"y":298.101},{"x":302.45,"y":298.096},{"x":302.30,"y":298.092},{"x":302.15,"y":298.090},{"x":302.00,"y":298.093},{"x":301.85,"y":298.098},{"x":301.70,"y":298.104},{"x":301.55,"y":298.110},{"x":301.40,"y":298.114},{"x":301.25,"y":298.112},{"x":301.10,"y":298.115}
],
"lo": [
{"x":296.21,"y":298.135},{"x":296.35,"y":298.134},{"x":296.50,"y":298.134},{"x":296.65,"y":298.133},{"x":296.80,"y":298.133},{"x":296.95,"y":298.135},{"x":297.10,"y":298.140},{"x":297.30,"y":298.142},{"x":297.50,"y":298.144},{"x":297.70,"y":298.145},{"x":297.90,"y":298.147},{"x":298.10,"y":298.148},{"x":298.30,"y":298.150},{"x":298.50,"y":298.151},{"x":298.70,"y":298.152},{"x":298.90,"y":298.153},{"x":299.10,"y":298.154},{"x":299.30,"y":298.155},{"x":299.50,"y":298.156},{"x":299.70,"y":298.157},{"x":299.90,"y":298.158},{"x":300.10,"y":298.158},{"x":300.30,"y":298.159},{"x":300.50,"y":298.160},{"x":300.70,"y":298.161},{"x":300.90,"y":298.162},{"x":301.10,"y":298.163},{"x":301.25,"y":298.165},{"x":301.35,"y":298.163},{"x":301.30,"y":298.157},{"x":301.10,"y":298.155},{"x":300.90,"y":298.153},{"x":300.70,"y":298.152},{"x":300.50,"y":298.150},{"x":300.30,"y":298.149},{"x":300.10,"y":298.148},{"x":299.90,"y":298.147},{"x":299.70,"y":298.147},{"x":299.50,"y":298.146},{"x":299.30,"y":298.146},{"x":299.10,"y":298.145},{"x":298.90,"y":298.144},{"x":298.70,"y":298.143},{"x":298.50,"y":298.142},{"x":298.30,"y":298.141},{"x":298.10,"y":298.140},{"x":297.90,"y":298.139},{"x":297.70,"y":298.138},{"x":297.50,"y":298.137},{"x":297.30,"y":298.136},{"x":297.10,"y":298.135},{"x":297.00,"y":298.137},{"x":297.20,"y":298.146},{"x":297.40,"y":298.150},{"x":297.60,"y":298.152},{"x":297.80,"y":298.154},{"x":298.00,"y":298.155},{"x":298.20,"y":298.156},{"x":298.40,"y":298.158},{"x":298.60,"y":298.160},{"x":298.80,"y":298.162},{"x":299.00,"y":298.163},{"x":299.20,"y":298.164},{"x":299.40,"y":298.162},{"x":299.60,"y":298.160},{"x":299.80,"y":298.158},{"x":300.00,"y":298.156},{"x":300.20,"y":298.155},{"x":300.40,"y":298.154},{"x":300.60,"y":298.152},{"x":300.80,"y":298.150},{"x":300.95,"y":298.147},{"x":300.80,"y":298.141},{"x":300.60,"y":298.139},{"x":300.40,"y":298.137},{"x":300.20,"y":298.136},{"x":300.00,"y":298.135},{"x":299.80,"y":298.134},{"x":299.60,"y":298.133},{"x":299.40,"y":298.132},{"x":299.20,"y":298.132},{"x":299.00,"y":298.133},{"x":298.80,"y":298.134},{"x":298.60,"y":298.135},{"x":298.40,"y":298.136},{"x":298.20,"y":298.137},{"x":298.00,"y":298.138},{"x":297.80,"y":298.139},{"x":297.60,"y":298.140},{"x":297.40,"y":298.141},{"x":297.20,"y":298.143},{"x":297.30,"y":298.147},{"x":297.60,"y":298.148},{"x":297.90,"y":298.150},{"x":298.20,"y":298.151},{"x":298.50,"y":298.153},{"x":298.80,"y":298.155},{"x":299.10,"y":298.156},{"x":299.40,"y":298.157},{"x":299.70,"y":298.152},{"x":300.00,"y":298.150},{"x":300.30,"y":298.148},{"x":300.60,"y":298.146},{"x":300.90,"y":298.143},{"x":301.20,"y":298.141},{"x":301.40,"y":298.140},{"x":301.60,"y":298.142},{"x":301.80,"y":298.144},{"x":302.00,"y":298.146},{"x":302.15,"y":298.142},{"x":302.30,"y":298.141},{"x":302.45,"y":298.144},{"x":302.60,"y":298.148},{"x":302.75,"y":298.146},{"x":302.92,"y":298.149},{"x":302.85,"y":298.143},{"x":302.70,"y":298.140},{"x":302.55,"y":298.138},{"x":302.40,"y":298.137},{"x":302.25,"y":298.136},{"x":302.10,"y":298.137},{"x":301.95,"y":298.139},{"x":301.80,"y":298.138},{"x":301.65,"y":298.136},{"x":301.50,"y":298.135},{"x":301.35,"y":298.134},{"x":301.20,"y":298.134},{"x":301.05,"y":298.135},{"x":300.90,"y":298.136}
],
"ann": [
{"x":298.776,"y":298.575,"t":"No Active Temperature Control"},
{"x":298.746,"y":298.214,"t":"Active Temperature Control"}
],
"slope": [
{"x":301.407,"y":298.262,"t":"(slope = 0.03 without active control"},
{"x":301.73,"y":298.242,"t":"= 0.0005 with active control)"}
]
},
"encoding": {
"x": {"field": "x", "type": "quantitative", "scale": {"domain": [296.2, 303.12], "nice": false, "zero": false},
 "axis": {"values": [297,298,299,300,301,302,303], "format": "d", "grid": false, "title": "Room Temperature (K)", "domainColor": "#8a8a8a", "tickColor": "#8a8a8a", "tickSize": 5, "labelPadding": 5, "labelFontSize": 9, "labelColor": "#222222", "titleFontSize": 12, "titleFontWeight": "normal", "titleColor": "#111111", "titlePadding": 2}},
"y": {"field": "y", "type": "quantitative", "scale": {"domain": [298.048, 298.648], "nice": false, "zero": false},
 "axis": {"values": [298.1,298.2,298.3,298.4,298.5,298.6], "format": ".1f", "grid": true, "gridColor": "#e2e2f8", "gridWidth": 1, "title": "Temperature (K)", "domainColor": "#8a8a8a", "tickColor": "#8a8a8a", "tickSize": 6, "labelPadding": 4, "labelFontSize": 9, "labelColor": "#222222", "titleFontSize": 12, "titleFontWeight": "normal", "titleColor": "#111111", "titlePadding": 9}}
},
"layer": [
{"data": {"name": "ub"}, "mark": {"type": "line", "strokeWidth": 1.8},
 "encoding": {"order": {"value": null},
  "color": {"datum": "Input Coolant", "type": "nominal",
   "scale": {"domain": ["Input Coolant", "Sample Cell"], "range": ["#0a3cf8", "#ff8040"]},
   "legend": {"orient": "none", "legendX": 333, "legendY": 170, "title": null, "symbolType": "stroke", "symbolSize": 400, "symbolStrokeWidth": 1.5, "labelFontSize": 12, "labelOffset": 7, "clipHeight": 13, "rowPadding": 2, "padding": 0,
    "encode": {"labels": {"update": {"fill": {"signal": "datum.value === 'Input Coolant' ? '#1f50ff' : '#ff5a1f'"}}}}}}}},
{"data": {"name": "ub2"}, "mark": {"type": "line", "strokeWidth": 1.8},
 "encoding": {"order": {"value": null}, "detail": {"field": "p", "type": "nominal"}, "color": {"datum": "Input Coolant", "type": "nominal"}}},
{"data": {"name": "uo"}, "mark": {"type": "line", "strokeWidth": 1.4},
 "encoding": {"order": {"value": null}, "color": {"datum": "Sample Cell", "type": "nominal"}}},
{"data": {"name": "uo2"}, "mark": {"type": "line", "strokeWidth": 1.4},
 "encoding": {"order": {"value": null}, "detail": {"field": "p", "type": "nominal"}, "color": {"datum": "Sample Cell", "type": "nominal"}}},
{"data": {"name": "lb"}, "mark": {"type": "line", "strokeWidth": 1, "color": "#1446ff"},
 "encoding": {"order": {"value": null}}},
{"data": {"name": "lo"}, "mark": {"type": "line", "strokeWidth": 2.6, "color": "#ff5a0a"},
 "encoding": {"order": {"value": null}}},
{"data": {"name": "ann"}, "mark": {"type": "text", "fontSize": 12, "color": "#111111", "align": "center", "baseline": "middle"},
 "encoding": {"text": {"field": "t"}}},
{"data": {"name": "slope"}, "mark": {"type": "text", "fontSize": 9, "color": "#111111", "align": "left", "baseline": "middle"},
 "encoding": {"text": {"field": "t"}}}
]
}
